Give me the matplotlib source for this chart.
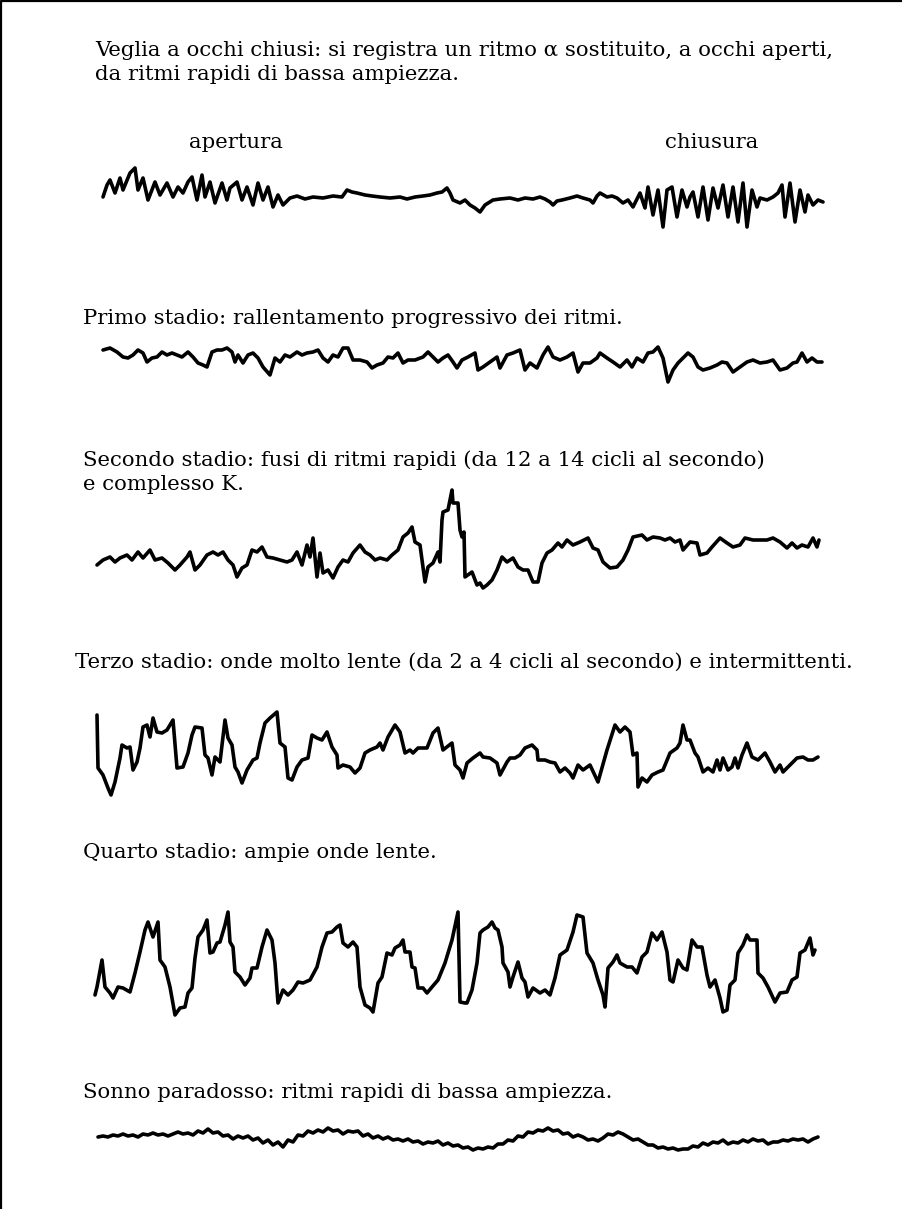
import matplotlib
matplotlib.use("Agg")
import matplotlib.pyplot as plt

# ---------------- data (time in sample units, amplitude up-positive) ----------------
veglia_t = [13,17,20,25,30,33,40,45,48,53,58,65,70,77,83,88,93,98,102,107,112,115,120,125,132,137,140,147,152,157,163,168,173,178,183,188,193,
            200,207,215,223,233,243,252,257,262,267,275,282,290,300,310,317,325,333,340,347,352,357,360,363,370,375,380,385,390,395,403,410,420,428,435,443,450,455,460,463,467,472,480,487,493,500,503,507,510,517,522,527,533,
            538,543,550,555,558,563,568,573,577,582,587,592,597,600,603,608,613,618,623,628,633,638,643,648,653,657,662,667,670,677,683,688,692,695,700,705,710,715,718,723,728,733]
veglia_v = [3,15,20,7,22,10,27,32,10,22,0,18,5,17,3,13,7,18,23,0,25,3,18,-3,17,0,12,18,0,13,-5,17,0,13,-7,5,-5,
            2,4,1,3,2,4,3,10,8,7,5,4,3,2,3,1,3,4,5,7,8,12,7,0,-3,0,-5,-8,-12,-5,0,1,2,0,2,1,3,1,-2,-5,-1,0,2,4,2,0,-3,4,7,3,4,2,-3,
            0,-7,7,-8,13,-15,10,-27,10,13,-17,10,-7,3,8,-17,13,-20,12,-8,15,-17,13,-22,17,-27,10,-7,2,0,3,7,15,-17,17,-22,10,-12,5,-5,0,-2]

primo_t = [13,20,27,33,38,43,48,53,57,62,67,72,77,82,87,92,98,103,108,113,117,122,127,132,137,142,145,148,153,158,163,168,173,180,185,190,195,200,207,212,217,223,228,233,238,243,248,253,258,263,270,277,282,287,293,298,303,308,313,318,325,333,338,343,348,353,358,363,367,372,378,
           385,388,393,400,407,410,417,423,430,435,440,447,453,458,463,470,477,483,488,493,500,507,510,517,523,530,537,542,547,553,558,563,568,573,578,583,588,593,598,603,608,613,620,627,632,637,643,650,657,663,670,677,683,690,697,703,707,712,717,722,727,732]
primo_v = [10,12,8,3,2,5,10,7,-2,2,3,8,5,7,5,3,8,3,-3,-5,-7,8,10,10,12,8,-2,5,-3,5,7,2,-7,-15,2,-2,5,3,8,5,7,8,10,2,-2,5,3,12,12,0,0,-2,-8,-5,-3,3,2,7,-3,0,0,3,8,3,-2,2,5,-2,-8,0,3,
           7,-10,-7,-2,3,-8,5,7,10,-10,-3,-8,5,13,3,0,3,7,-12,-3,-3,2,7,2,-2,-7,0,-7,2,-2,7,8,13,2,-22,-10,-3,2,7,3,-7,-10,-8,-5,-2,-3,-12,-7,-2,0,-3,-2,0,-10,-8,-3,-2,7,-2,2,-2,-2]

secondo_t = [7,13,20,25,30,37,42,48,53,60,65,72,78,85,90,97,100,105,110,117,123,128,133,138,143,147,152,157,162,167,172,177,183,190,197,202,207,212,217,220,223,227,230,233,238,243,248,253,258,263,270,275,280,285,290,297,302,308,313,318,322,325,330,333,335,338,343,348,350,352,353,358,362,363,368,370,372,374,
             375,382,387,390,393,397,402,407,412,417,423,428,433,438,443,448,452,457,462,468,472,477,483,490,498,503,508,513,520,527,533,538,543,552,557,563,570,575,580,585,590,593,600,607,610,617,622,630,637,643,650,655,663,670,677,683,690,697,702,707,712,718,723,727,729]
secondo_v = [-5,0,3,-2,2,5,0,8,2,10,0,2,-3,-10,-5,3,8,-10,-5,5,8,5,8,0,-5,-17,-8,-5,10,8,13,3,2,0,-2,0,8,-5,15,3,22,-17,7,-13,-10,-18,-7,0,-2,7,15,8,5,0,2,0,5,10,23,27,33,18,15,-7,-22,-7,-3,8,-2,40,48,50,70,57,57,30,23,28,
             -17,-12,-25,-23,-28,-25,-20,-10,3,-2,2,-7,-10,-10,-22,-22,-3,7,10,17,13,20,15,18,22,12,10,-2,-8,-7,0,10,23,25,20,23,22,20,22,18,20,10,18,17,5,7,13,22,17,13,15,22,20,20,20,22,18,12,17,12,15,13,22,13,20]

terzo_t = [7,8,13,18,21,25,30,32,37,40,43,47,50,53,57,60,63,67,72,77,83,87,93,98,102,105,112,115,118,122,125,130,135,138,142,145,148,152,157,163,167,170,175,180,187,190,195,198,202,207,212,218,222,227,232,237,242,247,248,253,260,265,270,275,280,287,290,293,298,305,310,315,320,323,328,337,343,348,353,362,365,370,373,
           377,383,390,393,400,407,410,417,420,425,430,435,442,447,448,455,460,465,470,475,480,483,488,493,500,508,517,525,530,535,540,543,547,548,552,557,562,568,573,580,587,590,593,597,600,605,608,613,618,623,627,630,633,638,642,645,648,652,657,662,668,675,680,685,690,693,700,707,713,718,723,728]
terzo_v = [40,-13,-20,-33,-40,-27,-3,10,7,8,-15,-7,7,28,30,18,37,23,22,25,35,-13,-12,2,20,28,27,0,-3,-20,-2,-7,35,17,10,-12,-17,-28,-15,-5,-3,12,32,37,43,12,8,-23,-25,-12,-5,-3,20,17,15,23,8,0,-13,-10,-12,-18,-13,2,5,8,12,5,18,30,23,2,5,2,7,7,22,27,5,12,-10,-15,-23,
           -8,-3,2,-2,-3,-8,-20,-7,-3,-3,0,7,10,5,-5,-5,-7,-8,-17,-13,-18,-23,-10,-15,-10,-27,5,30,23,28,23,0,2,-32,-23,-27,-20,-17,-15,2,7,12,30,15,15,2,-2,-17,-13,-17,-5,-15,-3,-15,-12,-3,-13,0,12,-2,-5,2,-7,-17,-10,-17,-10,-3,-2,-5,-5,-2]

quarto_t = [5,7,12,15,20,23,28,33,40,45,50,55,58,63,68,70,75,80,85,90,95,98,102,105,108,113,117,120,123,127,130,135,138,140,143,145,150,155,160,162,167,172,177,182,185,187,188,193,198,203,208,213,220,227,232,237,242,247,250,253,258,263,267,270,275,280,283,288,292,297,302,305,310,313,315,320,322,325,328,333,337,342,348,355,362,368,
            370,375,377,382,387,390,393,398,402,405,408,412,413,418,420,423,428,432,435,438,443,450,455,460,465,470,477,483,487,493,497,503,508,513,515,518,523,527,530,537,542,547,552,557,562,567,572,577,580,583,588,593,597,602,607,612,617,620,625,630,633,637,640,645,648,653,657,660,667,668,673,678,685,690,697,702,707,710,715,720,723,725]
quarto_v = [-30,-22,5,-22,-28,-33,-22,-23,-27,-8,13,35,43,28,43,5,-2,-22,-50,-43,-42,-28,-23,7,28,35,45,12,13,22,23,40,53,23,18,-7,-12,-20,-13,-3,-3,18,35,25,2,-25,-38,-25,-30,-25,-17,-18,-15,-2,18,32,33,38,40,22,18,23,18,-22,-40,-43,-47,-18,-12,12,10,17,20,25,13,13,-2,-3,-23,-23,-28,-22,-15,2,25,53,
            -37,-38,-38,-25,2,32,35,38,43,37,35,18,2,-7,-22,-12,3,-13,-17,-32,-23,-28,-25,-30,-13,10,15,33,50,48,12,2,-15,-30,-42,-3,3,10,2,-2,-2,-8,8,13,32,25,33,13,-15,-17,5,-3,-5,25,18,18,-10,-22,-15,-33,-47,-45,-20,-15,12,20,30,25,25,-8,-13,-22,-37,-28,-27,-15,-12,12,15,27,10,15]

# evenly sampled (one sample every 5 time units, starting at 8)
sonno_v = [3,4,3,5,4,6,4,5,3,6,
           5,7,5,6,4,6,8,6,7,5,
           9,7,11,7,8,4,5,1,4,2,
           4,0,2,-3,0,-5,-2,-7,0,-2,
           5,4,9,7,10,8,12,9,10,6,
           9,8,9,4,6,2,4,1,3,0,
           1,-1,1,-2,-1,-4,-2,-3,-1,-5,
           -3,-6,-5,-8,-7,-10,-8,-9,-7,-8,
           -4,-4,0,-1,4,3,8,7,10,9,
           12,9,10,6,7,3,5,3,0,1,
           -1,2,6,5,8,6,3,0,1,-2,
           -5,-5,-8,-7,-9,-8,-10,-9,-9,-6,
           -7,-3,-5,-2,-3,0,-4,-2,-3,0,
           -2,1,-1,0,-4,-2,-2,0,-1,1,
           0,1,-2,1,3]
sonno_t = [8 + 5 * i for i in range(len(sonno_v))]

# ---------------- layout ----------------
W, H = 903, 1209
fig = plt.figure(figsize=(W / 100, H / 100), dpi=100)
ax = fig.add_axes([0, 0, 1, 1])
ax.set_xlim(0, W)
ax.set_ylim(H, 0)
ax.axis("off")

x0 = 90
traces = [
    (veglia_t, veglia_v, 200),
    (primo_t, primo_v, 360),
    (secondo_t, secondo_v, 560),
    (terzo_t, terzo_v, 755),
    (quarto_t, quarto_v, 965),
    (sonno_t, sonno_v, 1140),
]
for t, v, base in traces:
    ax.plot([x0 + a for a in t], [base - b for b in v], color="black", lw=2.6,
            solid_joinstyle="round", solid_capstyle="round")

font = dict(family="DejaVu Serif", fontsize=15.3, color="black", va="center", ha="left")
texts = [
    (95, 50, "Veglia a occhi chiusi: si registra un ritmo \u03b1 sostituito, a occhi aperti,"),
    (95, 75, "da ritmi rapidi di bassa ampiezza."),
    (83, 318, "Primo stadio: rallentamento progressivo dei ritmi."),
    (83, 460, "Secondo stadio: fusi di ritmi rapidi (da 12 a 14 cicli al secondo)"),
    (83, 485, "e complesso K."),
    (75, 662, "Terzo stadio: onde molto lente (da 2 a 4 cicli al secondo) e intermittenti."),
    (83, 852, "Quarto stadio: ampie onde lente."),
    (83, 1093, "Sonno paradosso: ritmi rapidi di bassa ampiezza."),
]
for x, y, s in texts:
    ax.text(x, y, s, **font)
ax.text(236, 143, "apertura", **{**font, "ha": "center"})
ax.text(712, 143, "chiusura", **{**font, "ha": "center"})

# frame (left and top edges)
ax.plot([1, 1, W], [H, 1, 1], color="black", lw=1.6)

fig.savefig("out.png", dpi=100)
